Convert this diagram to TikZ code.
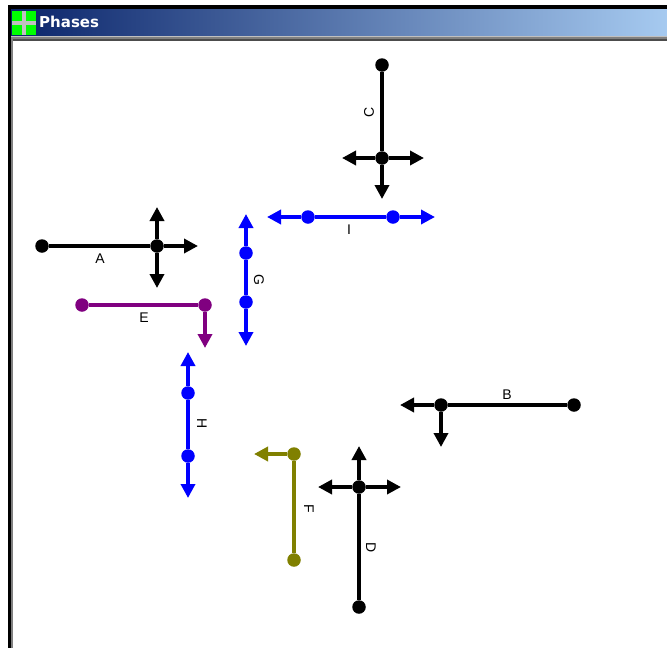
\documentclass[tikz,border=0pt]{standalone}
\usepackage{fontspec}
\setmainfont{Liberation Sans}
\newfontfamily\titlefont{DejaVu Sans}
\usetikzlibrary{arrows.meta}
\definecolor{tbdark}{RGB}{10,36,106}
\definecolor{tblight}{RGB}{166,202,240}
\definecolor{ephase}{RGB}{128,0,128}
\definecolor{fphase}{RGB}{128,128,0}
\definecolor{iconGreen}{RGB}{0,255,0}
\definecolor{iconGrey}{RGB}{192,192,192}
\begin{document}
\begin{tikzpicture}[x=1pt,y=-1pt,
  dot/.style={circle,fill,inner sep=0pt,minimum size=13.5pt},
  ln/.style={line width=3.5pt},
  arr/.style={ln,-{Triangle[length=14pt,width=14pt]}},
  lbl/.style={font=\fontsize{14}{14}\selectfont,inner sep=0pt},
  vlbl/.style={lbl,rotate=-90},
  vlblup/.style={lbl,rotate=90},
]
\useasboundingbox (0,0) rectangle (667,648);
\fill[white] (0,0) rectangle (667,648);
% window frame
\fill[black] (8,5) rectangle (667,9);
\fill[black] (8,5) rectangle (11,648);
\fill[gray] (11,36) rectangle (13,648);
\shade[left color=tbdark,right color=tblight,shading angle=90] (11,9) rectangle (667,36);
\fill[iconGrey] (11,36) rectangle (667,37);
\fill[gray] (11,37) rectangle (667,39);
\fill[black!70] (13,39) rectangle (667,41);
% icon
\fill[iconGreen] (12,11) rectangle (36,35);
\fill[iconGrey] (22,11) rectangle (26,35);
\fill[iconGrey] (12,21) rectangle (36,25);
\node[anchor=west,text=white,inner sep=0pt,font=\titlefont\bfseries\fontsize{15}{15}\selectfont] (title) at (39,22) {Phases};

% Phase A
\node[dot] (a1) at (42,246) {};
\node[dot] (a2) at (157,246) {};
\coordinate (aR) at (198,246);
\coordinate (aU) at (157,207);
\coordinate (aD) at (157,288);
\draw[ln] (a1) -- (a2);
\draw[arr] (a2) -- (aR);
\draw[arr] (a2) -- (aU);
\draw[arr] (a2) -- (aD);
\node[lbl] (la) at (100,259) {A};

% Phase C
\node[dot] (c1) at (382,65) {};
\node[dot] (c2) at (382,158) {};
\coordinate (cL) at (342,158);
\coordinate (cR) at (424,158);
\coordinate (cD) at (382,199);
\draw[ln] (c1) -- (c2);
\draw[arr] (c2) -- (cL);
\draw[arr] (c2) -- (cR);
\draw[arr] (c2) -- (cD);
\node[vlblup] (lc) at (369,112) {C};

% Phase I
\begin{scope}[blue]
\node[dot] (i1) at (308,217) {};
\node[dot] (i2) at (393,217) {};
\coordinate (iL) at (267,217);
\coordinate (iR) at (435,217);
\draw[ln] (i1) -- (i2);
\draw[arr] (i1) -- (iL);
\draw[arr] (i2) -- (iR);
\end{scope}
\node[lbl] (li) at (349,230) {I};

% Phase G
\begin{scope}[blue]
\node[dot] (g1) at (246,253) {};
\node[dot] (g2) at (246,302) {};
\coordinate (gU) at (246,214);
\coordinate (gD) at (246,346);
\draw[ln] (g1) -- (g2);
\draw[arr] (g1) -- (gU);
\draw[arr] (g2) -- (gD);
\end{scope}
\node[vlbl] (lg) at (259,280) {G};

% Phase E
\begin{scope}[ephase]
\node[dot] (e1) at (82,305) {};
\node[dot] (e2) at (205,305) {};
\coordinate (eD) at (205,348);
\draw[ln] (e1) -- (e2);
\draw[arr] (e2) -- (eD);
\end{scope}
\node[lbl] (le) at (144,318) {E};

% Phase H
\begin{scope}[blue]
\node[dot] (h1) at (188,393) {};
\node[dot] (h2) at (188,456) {};
\coordinate (hU) at (188,352);
\coordinate (hD) at (188,498);
\draw[ln] (h1) -- (h2);
\draw[arr] (h1) -- (hU);
\draw[arr] (h2) -- (hD);
\end{scope}
\node[vlbl] (lh) at (202,424) {H};

% Phase B
\node[dot] (b1) at (441,405) {};
\node[dot] (b2) at (574,405) {};
\coordinate (bL) at (400,405);
\coordinate (bD) at (441,447);
\draw[ln] (b1) -- (b2);
\draw[arr] (b1) -- (bL);
\draw[arr] (b1) -- (bD);
\node[lbl] (lb) at (507,395) {B};

% Phase F
\begin{scope}[fphase]
\node[dot] (f1) at (294,454) {};
\node[dot] (f2) at (294,560) {};
\coordinate (fL) at (254,454);
\draw[ln] (f1) -- (f2);
\draw[arr] (f1) -- (fL);
\end{scope}
\node[vlbl] (lf) at (309,509) {F};

% Phase D
\node[dot] (d1) at (359,487) {};
\node[dot] (d2) at (359,607) {};
\coordinate (dU) at (359,446);
\coordinate (dL) at (318,487);
\coordinate (dR) at (401,487);
\draw[ln] (d1) -- (d2);
\draw[arr] (d1) -- (dU);
\draw[arr] (d1) -- (dL);
\draw[arr] (d1) -- (dR);
\node[vlbl] (ld) at (371,548) {D};
\end{tikzpicture}
\end{document}
